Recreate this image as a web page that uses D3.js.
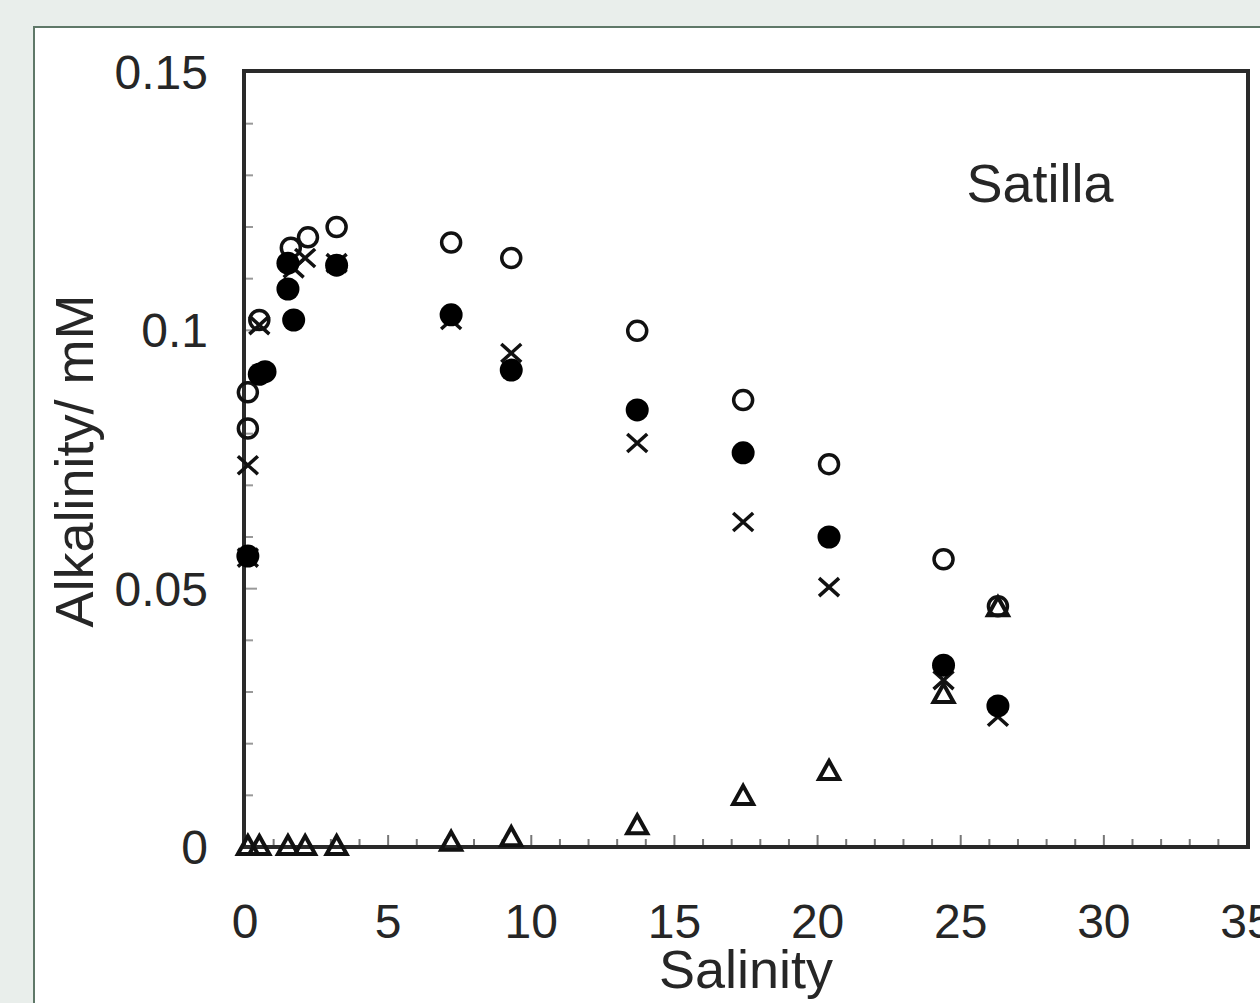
<!DOCTYPE html>
<html>
<head>
<meta charset="utf-8">
<script src="https://cdn.jsdelivr.net/npm/d3@7"></script>
<style>
body { margin: 0; background: #e9eeeb; }
text { font-family: "Liberation Sans", Arial, sans-serif; fill: #262626; }
</style>
</head>
<body>
<script>
// salinity / alkalinity (mM) for each symbol series
var openSal   = [0.1, 0.1, 0.5, 1.6, 2.2, 3.2, 7.2, 9.3, 13.7, 17.4, 20.4, 24.4, 26.3];
var openAlk   = [0.088, 0.081, 0.102, 0.116, 0.118, 0.120, 0.117, 0.114, 0.0999, 0.0865, 0.0741, 0.0557, 0.0466];

var filledSal = [0.1, 0.5, 0.7, 1.5, 1.5, 1.7, 3.2, 7.2, 9.3, 13.7, 17.4, 20.4, 24.4, 26.3];
var filledAlk = [0.0563, 0.0915, 0.092, 0.113, 0.108, 0.102, 0.1126, 0.103, 0.0923, 0.0846, 0.0763, 0.060, 0.0352, 0.0273];

var crossSal  = [0.1, 0.1, 0.5, 1.7, 2.1, 3.2, 7.2, 9.3, 13.7, 17.4, 20.4, 24.4, 26.3];
var crossAlk  = [0.0739, 0.056, 0.101, 0.112, 0.114, 0.113, 0.102, 0.0956, 0.0782, 0.0629, 0.0503, 0.0323, 0.0252];

var triSal    = [0.1, 0.5, 1.5, 2.1, 3.2, 7.2, 9.3, 13.7, 17.4, 20.4, 24.4, 26.3];
var triAlk    = [0.0, 0.0, 0.0, 0.0, 0.0, 0.0008, 0.0017, 0.004, 0.0097, 0.0145, 0.0294, 0.0462];

var xTicks = [0, 5, 10, 15, 20, 25, 30, 35];
var yTicks = [0, 0.05, 0.1, 0.15];
var yTickLabels = ["0", "0.05", "0.1", "0.15"];

var w = 1260, h = 1003;
var mLeft = 245, mRight = 1247, mTop = 72, mBottom = 847;

var svg = d3.select("body").append("svg")
    .attr("width", w)
    .attr("height", h)
    .style("display", "block");

//white panel
svg.append("rect")
    .attr("x", 34).attr("y", 27)
    .attr("width", 1240).attr("height", 990)
    .attr("fill", "#fff")
    .attr("stroke", "#5f7868")
    .attr("stroke-width", 2);

var x = d3.scaleLinear().domain([0, 35]).range([mLeft, mRight]);
var y = d3.scaleLinear().domain([0, 0.15]).range([mBottom, mTop]);

//minor ticks, inside the frame
svg.append("g").selectAll("line")
    .data(d3.range(1, 35))
    .enter().append("line")
    .attr("x1", function(d) { return x(d); })
    .attr("x2", function(d) { return x(d); })
    .attr("y1", mBottom)
    .attr("y2", function(d) { return d % 5 === 0 ? mBottom - 12 : mBottom - 8; })
    .attr("stroke", "#777")
    .attr("stroke-width", 2);

svg.append("g").selectAll("line")
    .data(d3.range(1, 15))
    .enter().append("line")
    .attr("x1", mLeft)
    .attr("x2", function(d) { return d % 5 === 0 ? mLeft + 12 : mLeft + 8; })
    .attr("y1", function(d) { return y(d / 100); })
    .attr("y2", function(d) { return y(d / 100); })
    .attr("stroke", "#999")
    .attr("stroke-width", 2);

//frame
svg.append("rect")
    .attr("x", mLeft - 1).attr("y", mTop - 1)
    .attr("width", mRight - mLeft + 2).attr("height", mBottom - mTop + 1)
    .attr("fill", "none")
    .attr("stroke", "#2a2a2a")
    .attr("stroke-width", 4);

//tick labels
svg.append("g").selectAll("text")
    .data(xTicks)
    .enter().append("text")
    .attr("x", function(d) { return x(d); })
    .attr("y", 938)
    .attr("text-anchor", "middle")
    .attr("font-size", 48)
    .text(function(d) { return d; });

svg.append("g").selectAll("text")
    .data(yTicks)
    .enter().append("text")
    .attr("x", 208)
    .attr("y", function(d) { return y(d) + 17; })
    .attr("text-anchor", "end")
    .attr("font-size", 48)
    .text(function(d, i) { return yTickLabels[i]; });

//axis titles
svg.append("text")
    .attr("x", 746).attr("y", 988)
    .attr("text-anchor", "middle")
    .attr("font-size", 54)
    .text("Salinity");

svg.append("text")
    .attr("transform", "translate(93,461) rotate(-90)")
    .attr("text-anchor", "middle")
    .attr("font-size", 54)
    .text("Alkalinity/ mM");

svg.append("text")
    .attr("x", 1040).attr("y", 202)
    .attr("text-anchor", "middle")
    .attr("font-size", 54)
    .text("Satilla");

//markers
var g = svg.append("g");

g.selectAll("circle.open")
    .data(openSal)
    .enter().append("circle")
    .attr("class", "open")
    .attr("cx", function(d) { return x(d); })
    .attr("cy", function(d, i) { return y(openAlk[i]); })
    .attr("r", 9.5)
    .attr("fill", "none")
    .attr("stroke", "#111")
    .attr("stroke-width", 3.5);

g.selectAll("path.tri")
    .data(triSal)
    .enter().append("path")
    .attr("class", "tri")
    .attr("transform", function(d, i) { return "translate(" + x(d) + "," + y(triAlk[i]) + ")"; })
    .attr("d", "M0,-11 L10,7 L-10,7 Z")
    .attr("fill", "none")
    .attr("stroke", "#111")
    .attr("stroke-width", 4);

g.selectAll("path.cross")
    .data(crossSal)
    .enter().append("path")
    .attr("class", "cross")
    .attr("transform", function(d, i) { return "translate(" + x(d) + "," + y(crossAlk[i]) + ")"; })
    .attr("d", "M-10,-9 L10,9 M-10,9 L10,-9")
    .attr("stroke", "#111")
    .attr("stroke-width", 3.5);

g.selectAll("circle.filled")
    .data(filledSal)
    .enter().append("circle")
    .attr("class", "filled")
    .attr("cx", function(d) { return x(d); })
    .attr("cy", function(d, i) { return y(filledAlk[i]); })
    .attr("r", 11.5)
    .attr("fill", "#000");
</script>
</body>
</html>
